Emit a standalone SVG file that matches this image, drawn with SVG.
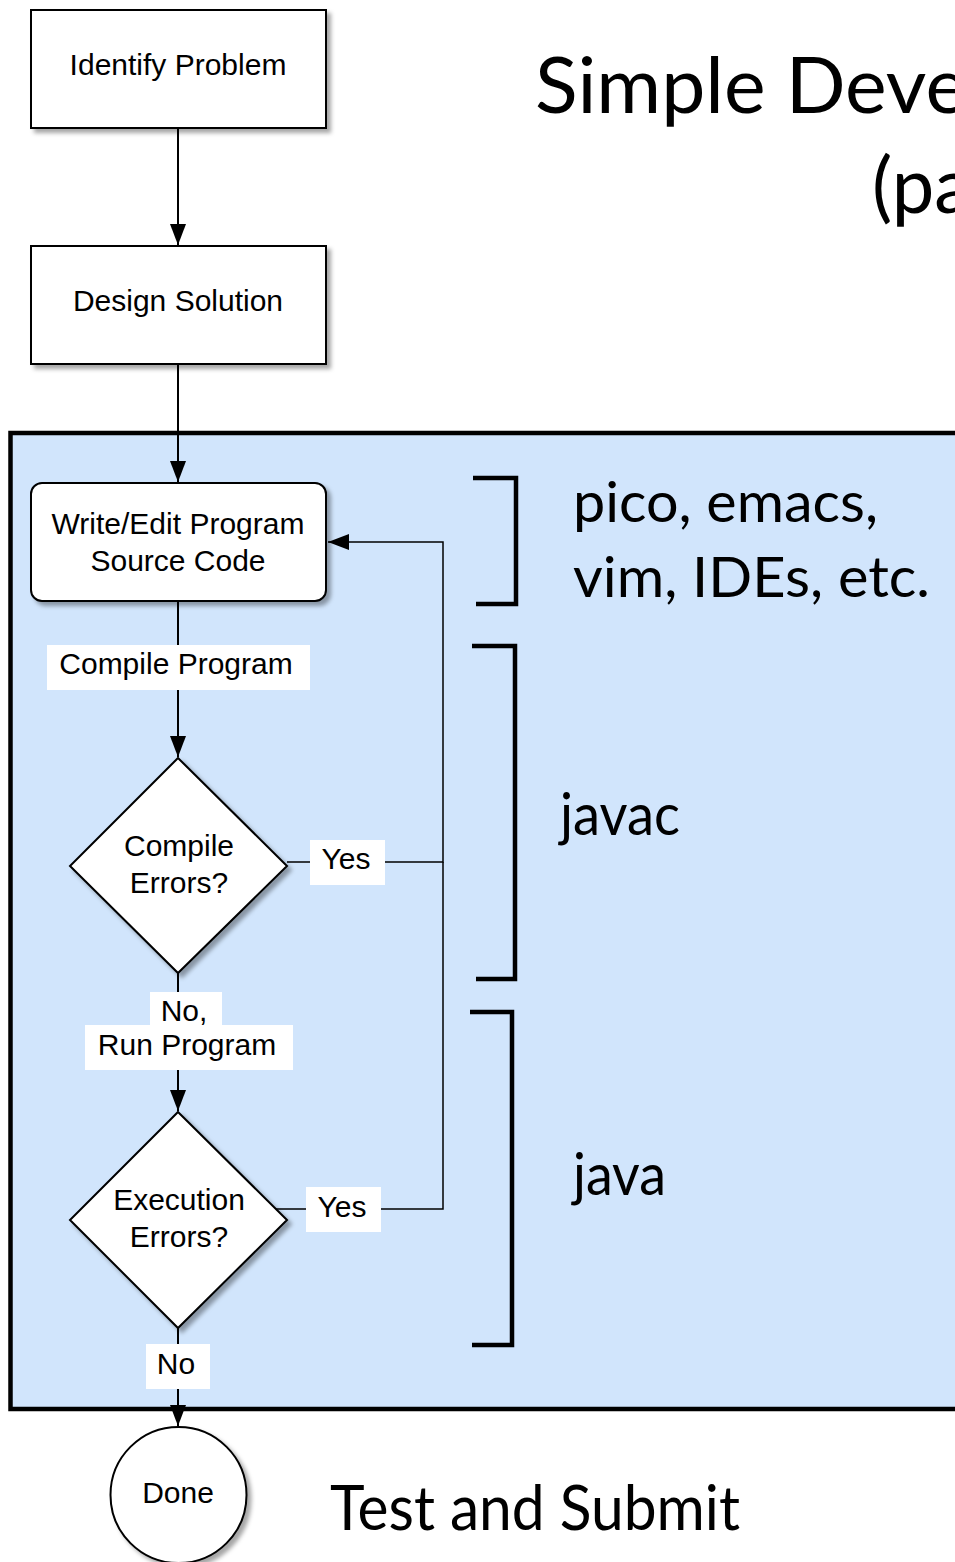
<svg xmlns="http://www.w3.org/2000/svg" width="955" height="1562" viewBox="0 0 955 1562">
<style>
.node{fill:#fff;stroke:#000;stroke-width:2;filter:url(#sh)}
.lbl{font-family:"Liberation Sans",Arial,sans-serif;font-size:30px;fill:#000;text-anchor:middle}
.big{font-family:Lato,"Open Sans",sans-serif;fill:#000}
.conn{fill:none;stroke:#000;stroke-width:2}
.fb{fill:none;stroke:#000;stroke-width:1.5}
.lbox{fill:#fff}
.brk{fill:none;stroke:#000;stroke-width:4.5}
</style>
<defs>
<filter id="sh" x="-20%" y="-20%" width="140%" height="140%">
<feDropShadow dx="4" dy="4" stdDeviation="2" flood-color="#000" flood-opacity="0.35"/>
</filter>
<marker id="ah" markerUnits="userSpaceOnUse" markerWidth="22" markerHeight="18" refX="21" refY="8" orient="auto">
<path d="M0,0 L21,8 L0,16 Z" fill="#000"/>
</marker>
</defs>
<rect width="955" height="1562" fill="#fff"/>
<g id="title">
<text class="big" x="535" y="113" font-size="78" textLength="432" lengthAdjust="spacingAndGlyphs">Simple Deve</text>
<text class="big" x="872" y="213" font-size="78" textLength="100" lengthAdjust="spacingAndGlyphs">(pa</text>
</g>
<g id="region">
<rect x="10.5" y="433" width="960" height="976" fill="#d1e5fc" stroke="#000" stroke-width="4.5"/>
</g>
<g id="brackets">
<path class="brk" d="M473,478 H516 V604 H476"/>
<path class="brk" d="M472,646 H515 V979 H476"/>
<path class="brk" d="M470,1012 H512 V1345 H472"/>
<text class="big" x="573" y="522" font-size="56" textLength="305" lengthAdjust="spacingAndGlyphs">pico, emacs,</text>
<text class="big" x="573" y="597" font-size="56" textLength="357" lengthAdjust="spacingAndGlyphs">vim, IDEs, etc.</text>
<text class="big" x="560" y="835" font-size="58" textLength="120" lengthAdjust="spacingAndGlyphs">javac</text>
<text class="big" x="573" y="1195" font-size="58" textLength="93" lengthAdjust="spacingAndGlyphs">java</text>
<text class="big" x="330" y="1530" font-size="62" textLength="410" lengthAdjust="spacingAndGlyphs">Test and Submit</text>
</g>
<g id="connectors">
<line class="conn" x1="178" y1="128" x2="178" y2="245" marker-end="url(#ah)"/>
<line class="conn" x1="178" y1="364" x2="178" y2="482" marker-end="url(#ah)"/>
<line class="conn" x1="178" y1="601" x2="178" y2="757" marker-end="url(#ah)"/>
<line class="conn" x1="178" y1="973" x2="178" y2="1111" marker-end="url(#ah)"/>
<line class="conn" x1="178" y1="1328" x2="178" y2="1426" marker-end="url(#ah)"/>
<polyline class="fb" points="287,862 443,862 443,542 328,542" marker-end="url(#ah)"/>
<polyline class="fb" points="276,1209 443,1209 443,862"/>
<rect class="lbox" x="47" y="645" width="263" height="45"/>
<text class="lbl" x="176" y="674">Compile Program</text>
<rect class="lbox" x="310" y="840" width="75" height="45"/>
<text class="lbl" x="346" y="869">Yes</text>
<rect class="lbox" x="150" y="992" width="72" height="34"/>
<rect class="lbox" x="85" y="1025" width="208" height="45"/>
<text class="lbl" x="184" y="1021">No,</text>
<text class="lbl" x="187" y="1055">Run Program</text>
<rect class="lbox" x="306" y="1187" width="75" height="45"/>
<text class="lbl" x="342" y="1217">Yes</text>
<rect class="lbox" x="146" y="1344" width="64" height="45"/>
<text class="lbl" x="176" y="1374">No</text>
</g>
<g id="n-identify">
<rect class="node" x="31" y="10" width="295" height="118"/>
<text class="lbl" x="178" y="75">Identify Problem</text>
</g>
<g id="n-design">
<rect class="node" x="31" y="246" width="295" height="118"/>
<text class="lbl" x="178" y="311">Design Solution</text>
</g>
<g id="n-write">
<rect class="node" x="31" y="483" width="295" height="118" rx="11"/>
<text class="lbl" x="178" y="534">Write/Edit Program</text>
<text class="lbl" x="178" y="571">Source Code</text>
</g>
<g id="n-compile">
<polygon class="node" points="178,758 287,866 178,973 70,866"/>
<text class="lbl" x="179" y="856">Compile</text>
<text class="lbl" x="179" y="893">Errors?</text>
</g>
<g id="n-exec">
<polygon class="node" points="178,1112 287,1220 178,1328 70,1220"/>
<text class="lbl" x="179" y="1210">Execution</text>
<text class="lbl" x="179" y="1247">Errors?</text>
</g>
<g id="n-done">
<circle class="node" cx="178.5" cy="1495" r="68"/>
<text class="lbl" x="178" y="1503">Done</text>
</g>
</svg>
